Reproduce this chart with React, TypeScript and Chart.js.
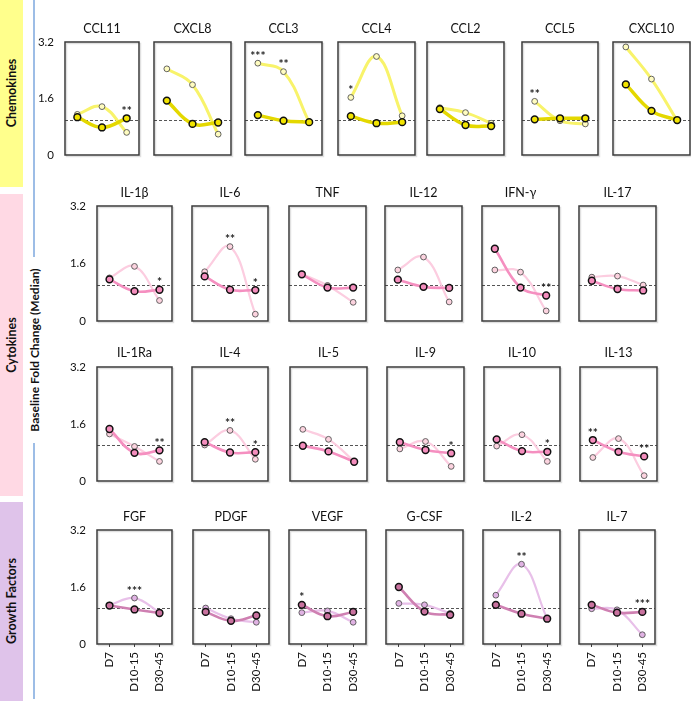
import React, { useEffect, useRef } from "react";
import { Chart, registerables } from "chart.js";

Chart.register(...registerables);

// ---------- data ----------
const timepoints = ["D7", "D10-15", "D30-45"];
const yTickValues = [0, 1.6, 3.2];
const BASELINE = 1;

// Chemokines (A = bold series, B = pale series)
const ccl11A = [1.07, 0.78, 1.04];
const ccl11B = [1.15, 1.37, 0.64];
const ccl11Stars = ["", "", "**"];
const cxcl8A = [1.54, 0.88, 0.92];
const cxcl8B = [2.44, 1.99, 0.59];
const cxcl8Stars = ["", "", ""];
const ccl3A = [1.13, 0.97, 0.93];
const ccl3B = [2.6, 2.36, 0.93];
const ccl3Stars = ["***", "**", ""];
const ccl4A = [1.1, 0.9, 0.93];
const ccl4B = [1.63, 2.79, 1.11];
const ccl4Stars = ["*", "", ""];
const ccl2A = [1.3, 0.85, 0.82];
const ccl2B = [1.34, 1.2, 0.9];
const ccl2Stars = ["", "", ""];
const ccl5A = [1.01, 1.04, 1.04];
const ccl5B = [1.52, 0.97, 0.88];
const ccl5Stars = ["**", "", ""];
const cxcl10A = [2.0, 1.25, 0.99];
const cxcl10B = [3.06, 2.15, 0.97];
const cxcl10Stars = ["", "", ""];

// Cytokines
const il1bA = [1.16, 0.83, 0.87];
const il1bB = [1.2, 1.52, 0.57];
const il1bStars = ["", "", "*"];
const il6A = [1.24, 0.87, 0.86];
const il6B = [1.37, 2.07, 0.19];
const il6Stars = ["", "**", "*"];
const tnfA = [1.3, 0.93, 0.93];
const tnfB = [1.31, 0.99, 0.52];
const tnfStars = ["", "", ""];
const il12A = [1.15, 0.95, 0.92];
const il12B = [1.42, 1.78, 0.53];
const il12Stars = ["", "", ""];
const ifngA = [2.01, 0.93, 0.71];
const ifngB = [1.42, 1.36, 0.28];
const ifngStars = ["", "", "**"];
const il17A = [1.12, 0.89, 0.85];
const il17B = [1.22, 1.25, 1.0];
const il17Stars = ["", "", ""];
const il1raA = [1.46, 0.79, 0.86];
const il1raB = [1.32, 0.97, 0.55];
const il1raStars = ["", "", "**"];
const il4A = [1.09, 0.8, 0.81];
const il4B = [1.01, 1.42, 0.61];
const il4Stars = ["", "**", "*"];
const il5A = [0.99, 0.83, 0.54];
const il5B = [1.45, 1.17, 0.55];
const il5Stars = ["", "", ""];
const il9A = [1.09, 0.87, 0.78];
const il9B = [0.9, 1.11, 0.41];
const il9Stars = ["", "", "*"];
const il10A = [1.17, 0.84, 0.82];
const il10B = [0.98, 1.3, 0.55];
const il10Stars = ["", "", "*"];
const il13A = [1.15, 0.82, 0.69];
const il13B = [0.66, 1.19, 0.15];
const il13Stars = ["**", "", "**"];

// Growth factors
const fgfA = [1.08, 0.97, 0.87];
const fgfB = [1.09, 1.29, 0.89];
const fgfStars = ["", "***", ""];
const pdgfA = [0.9, 0.65, 0.8];
const pdgfB = [1.01, 0.71, 0.61];
const pdgfStars = ["", "", ""];
const vegfA = [1.1, 0.78, 0.9];
const vegfB = [0.88, 0.93, 0.61];
const vegfStars = ["*", "", ""];
const gcsfA = [1.6, 0.91, 0.82];
const gcsfB = [1.14, 1.1, 0.86];
const gcsfStars = ["", "", ""];
const il2A = [1.1, 0.85, 0.71];
const il2B = [1.37, 2.24, 0.71];
const il2Stars = ["", "**", ""];
const il7A = [1.1, 0.88, 0.9];
const il7B = [0.99, 0.96, 0.26];
const il7Stars = ["", "", "***"];

// ---------- panel tables ----------
type Spec = { name: string; a: number[]; b: number[]; stars: string[] };

const chemokinePanels: Spec[] = [
  { name: "CCL11", a: ccl11A, b: ccl11B, stars: ccl11Stars },
  { name: "CXCL8", a: cxcl8A, b: cxcl8B, stars: cxcl8Stars },
  { name: "CCL3", a: ccl3A, b: ccl3B, stars: ccl3Stars },
  { name: "CCL4", a: ccl4A, b: ccl4B, stars: ccl4Stars },
  { name: "CCL2", a: ccl2A, b: ccl2B, stars: ccl2Stars },
  { name: "CCL5", a: ccl5A, b: ccl5B, stars: ccl5Stars },
  { name: "CXCL10", a: cxcl10A, b: cxcl10B, stars: cxcl10Stars },
];
const cytokinePanels1: Spec[] = [
  { name: "IL-1β", a: il1bA, b: il1bB, stars: il1bStars },
  { name: "IL-6", a: il6A, b: il6B, stars: il6Stars },
  { name: "TNF", a: tnfA, b: tnfB, stars: tnfStars },
  { name: "IL-12", a: il12A, b: il12B, stars: il12Stars },
  { name: "IFN-γ", a: ifngA, b: ifngB, stars: ifngStars },
  { name: "IL-17", a: il17A, b: il17B, stars: il17Stars },
];
const cytokinePanels2: Spec[] = [
  { name: "IL-1Ra", a: il1raA, b: il1raB, stars: il1raStars },
  { name: "IL-4", a: il4A, b: il4B, stars: il4Stars },
  { name: "IL-5", a: il5A, b: il5B, stars: il5Stars },
  { name: "IL-9", a: il9A, b: il9B, stars: il9Stars },
  { name: "IL-10", a: il10A, b: il10B, stars: il10Stars },
  { name: "IL-13", a: il13A, b: il13B, stars: il13Stars },
];
const growthPanels: Spec[] = [
  { name: "FGF", a: fgfA, b: fgfB, stars: fgfStars },
  { name: "PDGF", a: pdgfA, b: pdgfB, stars: pdgfStars },
  { name: "VEGF", a: vegfA, b: vegfB, stars: vegfStars },
  { name: "G-CSF", a: gcsfA, b: gcsfB, stars: gcsfStars },
  { name: "IL-2", a: il2A, b: il2B, stars: il2Stars },
  { name: "IL-7", a: il7A, b: il7B, stars: il7Stars },
];

// ---------- styles / layout ----------
type Palette = {
  boldLine: string; boldFill: string; boldW: number;
  lightLine: string; lightFill: string; lightW: number;
};
const chemPalette: Palette = {
  boldLine: "#e4d800", boldFill: "#f2e400", boldW: 3.5,
  lightLine: "#f8f36a", lightFill: "#fffcc0", lightW: 3,
};
const cytoPalette: Palette = {
  boldLine: "#f58fc0", boldFill: "#f48dbd", boldW: 2.6,
  lightLine: "#fccde0", lightFill: "#fcd3df", lightW: 2.2,
};
const growthPalette: Palette = {
  boldLine: "#cf80b2", boldFill: "#c9729f", boldW: 2.6,
  lightLine: "#e8c0e9", lightFill: "#e0b2e3", lightW: 2.2,
};

type Row = { top: number; bottom: number; lefts: number[]; widths: number[]; titleGap: number; panels: Spec[]; palette: Palette; showX: boolean };
const rows: Row[] = [
  { top: 42, bottom: 155, lefts: [65, 154, 245, 338, 427, 522, 613], widths: [74, 77, 77, 77, 77, 76, 77], titleGap: 13, panels: chemokinePanels, palette: chemPalette, showX: false },
  { top: 206, bottom: 321, lefts: [97, 192, 289, 385, 482, 579], widths: [75, 76, 77, 77, 77, 77], titleGap: 13, panels: cytokinePanels1, palette: cytoPalette, showX: false },
  { top: 367, bottom: 481, lefts: [97, 192, 290, 387, 484, 580], widths: [75, 76, 77, 77, 76, 77], titleGap: 14, panels: cytokinePanels2, palette: cytoPalette, showX: false },
  { top: 530, bottom: 644, lefts: [97, 193, 289, 386, 483, 579], widths: [75, 76, 77, 77, 77, 76], titleGap: 13, panels: growthPanels, palette: growthPalette, showX: true },
];

const FONT = "Lato, 'Open Sans', sans-serif";
const AXW = 40;
const TOP_SPACE = 26;

function Panel(props: { spec: Spec; palette: Palette; x: number; y: number; w: number; h: number; showY: boolean; showX: boolean; titleGap: number }) {
  const { spec, palette, x, y, w, h, showY, showX, titleGap } = props;
  const ref = useRef<HTMLCanvasElement | null>(null);
  const xh = showX ? 57 : 24;
  const cw = w + 2 * AXW;
  const chh = TOP_SPACE + h + xh;

  useEffect(() => {
    if (!ref.current) return;
    const decor = {
      id: "decor",
      beforeDatasetsDraw(chart: any) {
        const { ctx, chartArea } = chart;
        const yy = chart.scales.y.getPixelForValue(BASELINE);
        ctx.save();
        ctx.strokeStyle = "#555";
        ctx.lineWidth = 1;
        ctx.setLineDash([3, 2]);
        ctx.beginPath();
        ctx.moveTo(chartArea.left, Math.round(yy) + 0.5);
        ctx.lineTo(chartArea.right, Math.round(yy) + 0.5);
        ctx.stroke();
        ctx.restore();
      },
      afterDraw(chart: any) {
        const { ctx, chartArea } = chart;
        ctx.save();
        // frame shadow
        ctx.strokeStyle = "rgba(0,0,0,0.12)";
        ctx.lineWidth = 1.5;
        ctx.strokeRect(chartArea.left + 1.5, chartArea.top + 1.5, chartArea.right - chartArea.left, chartArea.bottom - chartArea.top);
        // frame
        ctx.strokeStyle = "#3a3a3a";
        ctx.lineWidth = 1.5;
        ctx.strokeRect(chartArea.left, chartArea.top, chartArea.right - chartArea.left, chartArea.bottom - chartArea.top);
        // title
        ctx.fillStyle = "#111";
        ctx.font = `12.5px ${FONT}`;
        ctx.textAlign = "center";
        ctx.textBaseline = "middle";
        ctx.fillText(spec.name, (chartArea.left + chartArea.right) / 2, chartArea.top - titleGap);
        // significance stars
        ctx.font = `bold 12px ${FONT}`;
        ctx.fillStyle = "#222";
        ctx.textBaseline = "alphabetic";
        spec.stars.forEach((s, i) => {
          if (!s) return;
          const px = chart.scales.x.getPixelForValue(i);
          const py = chart.scales.y.getPixelForValue(Math.max(spec.a[i], spec.b[i]));
          ctx.fillText(s, px, py - 3.5);
        });
        ctx.restore();
      },
    };

    const chart = new Chart(ref.current, {
      type: "line",
      data: {
        labels: timepoints,
        datasets: [
          {
            label: "A",
            data: spec.a,
            borderColor: palette.boldLine,
            borderWidth: palette.boldW,
            tension: 0.4,
            pointRadius: 3.4,
            pointBackgroundColor: palette.boldFill,
            pointBorderColor: "#111",
            pointBorderWidth: 1.5,
          },
          {
            label: "B",
            data: spec.b,
            borderColor: palette.lightLine,
            borderWidth: palette.lightW,
            tension: 0.4,
            pointRadius: 2.9,
            pointBackgroundColor: palette.lightFill,
            pointBorderColor: "#555",
            pointBorderWidth: 0.9,
          },
        ],
      },
      options: {
        responsive: false,
        maintainAspectRatio: false,
        animation: false,
        layout: { padding: { top: TOP_SPACE, right: AXW, left: 0, bottom: 0 } },
        plugins: { legend: { display: false }, tooltip: { enabled: false }, title: { display: false } },
        scales: {
          x: {
            type: "category",
            offset: true,
            border: { display: false },
            grid: showX
              ? { display: true, drawOnChartArea: false, drawTicks: true, tickLength: 3, offset: false, color: "#444" }
              : { display: false },
            ticks: {
              display: showX,
              minRotation: 90,
              maxRotation: 90,
              autoSkip: false,
              padding: 5,
              color: "#111",
              font: { family: FONT, size: 11.5 },
            },
            afterFit: (s: any) => { s.height = xh; },
          },
          y: {
            type: "linear",
            min: 0,
            max: 3.2,
            border: { display: false },
            grid: { display: false, drawTicks: false },
            afterBuildTicks: (s: any) => { s.ticks = yTickValues.map((v) => ({ value: v })); },
            ticks: {
              display: showY,
              padding: 11,
              color: "#111",
              font: { family: FONT, size: 11.5 },
              callback: (v: any) => String(v),
            },
            afterFit: (s: any) => { s.width = AXW; },
          },
        },
      },
      plugins: [decor],
    } as any);
    return () => chart.destroy();
  }, []);

  return (
    <canvas
      ref={ref}
      width={cw}
      height={chh}
      style={{ position: "absolute", left: x - AXW, top: y - TOP_SPACE, width: cw, height: chh }}
    />
  );
}

function RotLabel(props: { text: string; cx: number; cy: number; size: number }) {
  return (
    <div
      style={{
        position: "absolute",
        left: props.cx,
        top: props.cy,
        transform: "translate(-50%, -50%) rotate(-90deg)",
        whiteSpace: "nowrap",
        fontFamily: FONT,
        fontWeight: 700,
        fontSize: props.size,
        color: "#111",
        lineHeight: 1,
      }}
    >
      {props.text}
    </div>
  );
}

export default function App() {
  return (
    <div style={{ position: "absolute", left: 0, top: 0, width: 691, height: 701, overflow: "hidden", background: "#fff" }}>
      <div style={{ position: "absolute", left: 0, top: 0, width: 23, height: 187, background: "#ffff8c" }} />
      <div style={{ position: "absolute", left: 0, top: 194, width: 23, height: 302, background: "#ffd9e4" }} />
      <div style={{ position: "absolute", left: 0, top: 502, width: 23, height: 199, background: "#dfc3ea" }} />
      <RotLabel text="Chemokines" cx={12} cy={93} size={12.5} />
      <RotLabel text="Cytokines" cx={12} cy={345} size={12.5} />
      <RotLabel text="Growth Factors" cx={12} cy={601} size={12.5} />
      <div style={{ position: "absolute", left: 33, top: 0, width: 2, height: 257, background: "#9dbde6" }} />
      <div style={{ position: "absolute", left: 33, top: 443, width: 2, height: 256, background: "#9dbde6" }} />
      <RotLabel text="Baseline Fold Change (Median)" cx={35} cy={350} size={12} />
      {rows.map((row, ri) =>
        row.panels.map((spec, pi) => (
          <Panel
            key={`${ri}-${pi}`}
            spec={spec}
            palette={row.palette}
            x={row.lefts[pi]}
            y={row.top}
            w={row.widths[pi]}
            h={row.bottom - row.top}
            showY={pi === 0}
            showX={row.showX}
            titleGap={row.titleGap}
          />
        ))
      )}
    </div>
  );
}
